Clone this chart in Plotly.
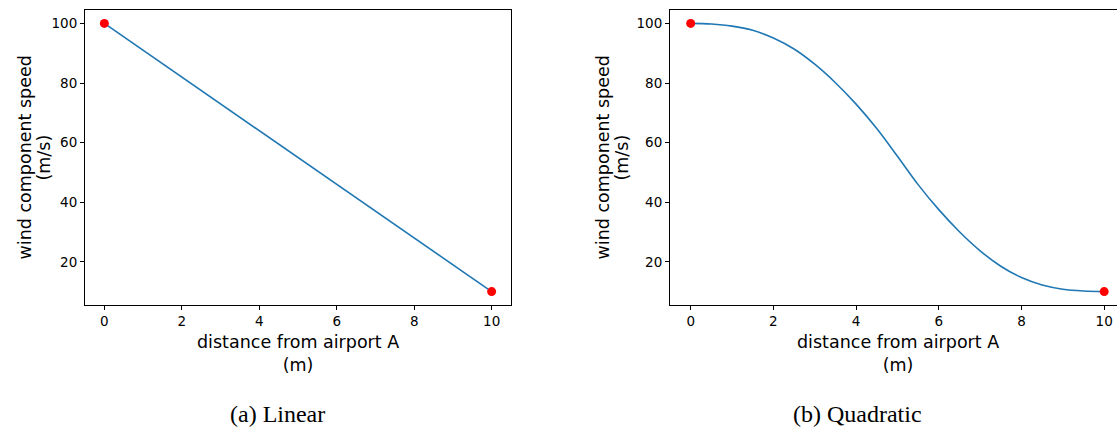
import plotly.graph_objects as go

# ---- data ----
lin_x = [0, 10]
lin_y = [100, 10]

quad_x = [0, 0.5, 1, 1.5, 2, 2.5, 3, 3.5, 4, 4.5, 5, 5.5, 6, 6.5, 7, 7.5, 8, 8.5, 9, 9.5, 10]
quad_y = [100, 99.8, 99.1, 97.7, 95.1, 91.4, 86.3, 80.1, 72.9, 64.7, 55.4, 45.9, 37.5, 30.1, 23.7, 18.5, 14.7, 12.2, 10.8, 10.2, 10]

end_x = [0, 10]
end_y = [100, 10]

x_ticks = [0, 2, 4, 6, 8, 10]
y_ticks = [20, 40, 60, 80, 100]

x_title = "distance from airport A<br>(m)"
y_title_1 = "wind component speed"
y_title_2 = "(m/s)"
captions = ["(a) Linear", "(b) Quadratic"]

W, H = 1117, 430
blue = "#1f77b4"

fig = go.Figure()
fig.add_trace(go.Scatter(x=lin_x, y=lin_y, mode="lines", line=dict(color=blue, width=1.6),
                         xaxis="x", yaxis="y", showlegend=False, hoverinfo="skip"))
fig.add_trace(go.Scatter(x=end_x, y=end_y, mode="markers", marker=dict(color="red", size=9),
                         xaxis="x", yaxis="y", showlegend=False, cliponaxis=False))
fig.add_trace(go.Scatter(x=quad_x, y=quad_y, mode="lines", line=dict(color=blue, width=1.6, shape="spline", smoothing=1.0),
                         xaxis="x2", yaxis="y2", showlegend=False, hoverinfo="skip"))
fig.add_trace(go.Scatter(x=end_x, y=end_y, mode="markers", marker=dict(color="red", size=9),
                         xaxis="x2", yaxis="y2", showlegend=False, cliponaxis=False))

tickfont = dict(family="DejaVu Sans", size=13.5, color="black")
common_x = dict(tickmode="array", tickvals=x_ticks, ticks="outside", ticklen=4, tickcolor="black",
                showgrid=False, zeroline=False, showline=True, linecolor="black", linewidth=1,
                tickfont=tickfont)
common_y = dict(tickmode="array", tickvals=y_ticks, ticks="outside", ticklen=4, tickcolor="black",
                showgrid=False, zeroline=False, showline=True, linecolor="black", linewidth=1,
                tickfont=tickfont, range=[5.5, 104.5])

ydom = [1 - 305 / H, 1 - 10 / H]
fig.update_layout(
    width=W, height=H, margin=dict(l=0, r=0, t=0, b=0),
    paper_bgcolor="white", plot_bgcolor="white",
    xaxis=dict(domain=[85 / W, 511 / W], range=[-0.5, 10.5], anchor="y", mirror=True, **common_x),
    yaxis=dict(domain=ydom, anchor="x", mirror=True, **common_y),
    xaxis2=dict(domain=[670 / W, 1.0], range=[-0.5, 10.31], anchor="y2", mirror=True, **common_x),
    yaxis2=dict(domain=ydom, anchor="x2", mirror=False, **common_y),
)

titlefont = dict(family="DejaVu Sans", size=17.5, color="black")
ann = []
for cx, yx1, yx2 in [((85 + 511) / 2, 24, 43), ((670 + 1125) / 2, 602, 621)]:
    ann.append(dict(text=x_title, x=cx / W, y=1 - 353 / H, xref="paper", yref="paper",
                    showarrow=False, font=titlefont, xanchor="center", yanchor="middle"))
    ann.append(dict(text=y_title_1, x=yx1 / W, y=1 - 157.5 / H, xref="paper", yref="paper",
                    showarrow=False, font=titlefont, textangle=-90, xanchor="center", yanchor="middle"))
    ann.append(dict(text=y_title_2, x=yx2 / W, y=1 - 157.5 / H, xref="paper", yref="paper",
                    showarrow=False, font=titlefont, textangle=-90, xanchor="center", yanchor="middle"))
for cap, cap_x in zip(captions, [277, 857]):
    ann.append(dict(text=cap, x=cap_x / W, y=1 - 414 / H, xref="paper", yref="paper",
                    showarrow=False, font=dict(family="Liberation Serif", size=24, color="black"),
                    xanchor="center", yanchor="middle"))
fig.update_layout(annotations=ann)

fig.write_html("out.html")
